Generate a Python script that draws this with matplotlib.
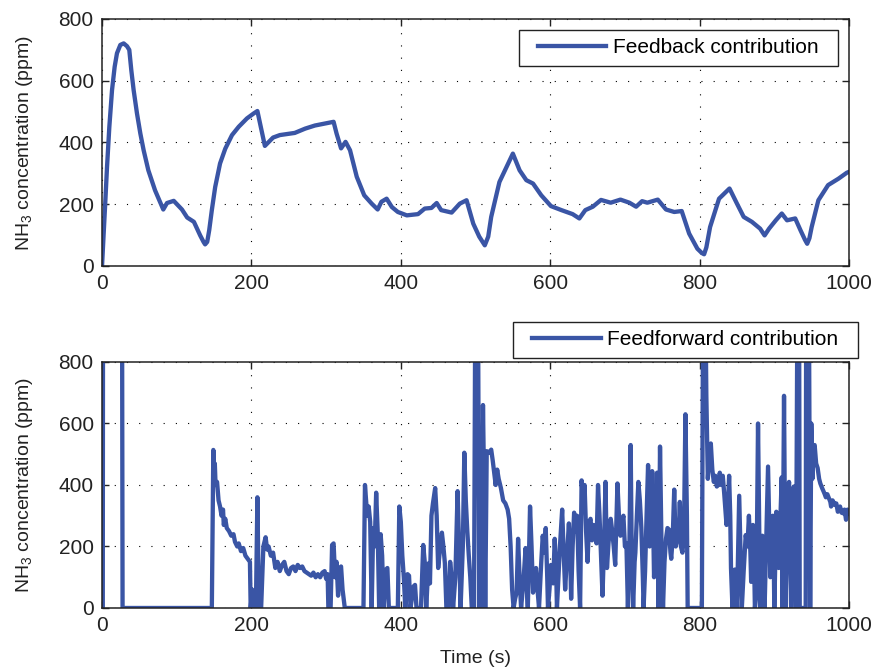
import matplotlib
matplotlib.use("Agg")
import matplotlib.pyplot as plt
from matplotlib.legend_handler import HandlerLine2D
import numpy as np

plt.rcParams["font.family"] = ["Liberation Sans", "DejaVu Sans"]
plt.rcParams["mathtext.fontset"] = "custom"
plt.rcParams["mathtext.rm"] = "Liberation Sans"
plt.rcParams["mathtext.it"] = "Liberation Sans:italic"

LINE_COLOR = "#3a55a5"
FS = 15

# Feedback contribution (ppm) over time (s)
fb_time = [0, 2.2, 4.5, 6.7, 9.8, 13.4, 16.9, 20, 24.5, 29, 33.4, 36.5, 39.2, 42.3, 46.8,
           51.3, 55.7, 62, 71, 82, 87, 96, 107, 114, 123, 131.4, 135.9, 138, 140.8, 143.5,
           147, 151.5, 158, 165, 174, 183, 194, 203, 208, 212.5, 218, 229, 238, 258,
           272, 285, 310, 314, 320, 326, 332, 341, 351, 361, 369, 374, 381, 388, 396,
           408, 423, 432, 441, 448, 454, 468, 479, 488, 497, 505, 512.4, 517, 521, 532,
           550, 559, 568, 577, 588, 601, 615, 630, 639, 647, 657, 668, 681, 694, 706, 715,
           723, 730, 744, 755, 766, 776, 786, 797, 803, 806, 809, 814, 826, 840, 850, 859,
           870, 881, 887, 893, 902, 910, 917, 928, 935, 941, 944, 947, 950, 959, 972, 986,
           997, 1000]
fb_value = [0, 105, 213, 321, 451, 570, 645, 689, 716, 721, 712, 700, 634, 570, 494,
            429, 375, 310, 245, 183, 204, 211, 183, 157, 143, 99, 78, 70, 78, 116,
            181, 256, 332, 380, 424, 451, 478, 494, 502, 451, 389, 416, 424, 431,
            445, 455, 467, 429, 381, 402, 375, 289, 229, 202, 183, 208, 218, 191, 175,
            164, 168, 186, 188, 204, 181, 173, 202, 213, 137, 95, 67, 95, 159, 272,
            364, 310, 278, 267, 229, 194, 181, 168, 154, 181, 192, 214, 205, 215, 205, 192,
            210, 205, 215, 183, 175, 178, 105, 56, 42, 38, 60, 126, 218, 251, 202, 159,
            143, 121, 99, 121, 148, 170, 148, 154, 116, 85, 72, 90, 126, 213, 262, 283,
            302, 305]

# Feedforward contribution (ppm) over time (s); values above 800 run off the axis
ff_time = [1, 1.5, 26.5, 27.5, 147, 149, 150, 151, 152, 154, 156, 158, 160, 162, 163, 165, 167,
           170, 173, 176, 178, 181, 183, 186, 189, 192, 195, 198, 199, 201, 203, 206, 208,
           210, 213, 216, 219, 221, 223, 226, 229, 232, 235, 238, 241, 244, 247, 250, 253,
           256, 259, 262, 265, 268, 271, 274, 277, 280, 283, 286, 289, 292, 295, 298, 300,
           302, 303, 306, 308, 310, 312, 314, 316, 318, 320, 322, 325,
           350, 352, 355, 357, 359, 361, 363, 365, 367, 369, 371, 373, 375, 377, 380, 382,
           384, 396, 398, 400, 402, 404, 406, 409, 411, 413, 417, 419, 421, 427, 430, 432,
           434, 437, 439, 441, 443, 446, 448, 450, 452, 455, 457, 459, 461, 464, 466, 468,
           470, 473, 476, 478, 480, 483, 485, 487, 489, 491, 493, 495, 498, 500, 503, 505,
           507, 508, 510, 512, 513, 515, 518, 521, 523, 525, 527, 529, 531, 534, 537, 540,
           543, 545, 547, 549, 551, 553, 555, 557, 559, 561, 564, 567, 569, 570, 573, 575,
           577, 579, 581, 583, 585, 588, 590, 592, 594, 596, 597, 599, 601, 604, 606, 608,
           609, 611, 613, 616, 618, 620, 622, 625, 627, 628, 630, 632, 634, 636, 638, 640,
           642, 644, 646, 648, 650, 652, 654, 656, 658, 660, 662, 664, 666, 668, 670, 672,
           674, 676, 678, 681, 683, 685, 687, 690, 692, 694, 696, 698, 700, 702, 704, 706,
           707.7, 709, 711, 713, 714, 716, 718, 720, 722, 724, 725, 727, 729, 731, 733, 735,
           736.5, 738, 739, 741, 743, 745, 747, 749, 751, 753, 755, 757, 759, 761, 762, 764,
           766, 768, 770, 772, 773.5, 775, 777, 779, 781, 783, 784, 803, 805, 807, 809, 811,
           813, 815, 817, 819, 821, 823, 825, 827, 829, 831, 833, 836, 838, 839.5, 841, 842,
           844, 847, 849, 850, 853, 855, 856.5, 859, 861.7, 864, 866, 868, 869, 871.4, 873,
           874, 876, 878.2, 880, 881, 883, 884, 886, 887, 889, 891.6, 893, 894.7, 896, 898,
           899, 900, 902.7, 904, 906, 908, 909.9, 911, 913, 915, 917, 919.7, 921, 922.5, 924,
           926, 928, 929, 931.3, 933, 934, 942, 942.8, 946, 948, 949.5, 951, 952, 954, 956,
           958, 960, 961.6, 964, 967, 969, 971, 973, 975, 976, 978, 981, 983, 985, 987, 988,
           990, 992, 994, 996, 998, 1000]
ff_value = [0, 1500, 1500, 0, 0, 514, 420, 470, 400, 410, 350, 330, 300, 320, 270, 290, 260,
            250, 235, 240, 215, 200, 210, 185, 195, 170, 160, 150, 0, 60, 0, 0, 360,
            0, 0, 200, 230, 190, 200, 170, 180, 130, 150, 120, 140, 150, 120, 110, 130,
            135, 120, 140, 130, 135, 120, 115, 110, 105, 115, 100, 110, 100, 115, 120, 95,
            110, 0, 0, 205, 210, 100, 150, 40, 130, 135, 60, 0,
            0, 400, 300, 330, 280, 0, 260, 200, 375, 250, 0, 240, 170, 0, 125, 130,
            0, 0, 330, 280, 170, 100, 0, 110, 105, 0, 70, 75, 0, 0, 205, 150,
            0, 145, 80, 300, 340, 390, 300, 130, 180, 245, 200, 145, 0, 0, 150, 100,
            0, 100, 380, 200, 0, 200, 505, 350, 250, 170, 100, 0, 0, 1200, 1200, 0,
            300, 0, 660, 300, 0, 510, 505, 515, 480, 440, 400, 450, 420, 390, 350, 340,
            320, 290, 200, 60, 0, 30, 50, 225, 100, 0, 80, 195, 50, 0, 330, 200,
            50, 90, 130, 60, 0, 150, 235, 180, 260, 100, 0, 60, 140, 80, 225, 120,
            0, 100, 200, 320, 180, 60, 150, 275, 140, 30, 200, 310, 250, 300, 120, 0,
            415, 350, 400, 250, 150, 280, 290, 220, 270, 250, 210, 400, 300, 170, 40, 200,
            410, 130, 210, 290, 250, 200, 140, 405, 300, 235, 280, 300, 200, 210, 0, 200,
            530, 200, 0, 150, 180, 300, 410, 350, 260, 100, 0, 120, 300, 465, 200, 300,
            445, 250, 100, 250, 440, 0, 525, 200, 0, 150, 225, 260, 255, 180, 160, 230,
            385, 200, 220, 230, 345, 200, 180, 240, 630, 300, 0, 0, 1200, 1200, 690, 420,
            500, 535, 450, 410, 430, 395, 400, 440, 400, 430, 370, 270, 340, 430, 300, 130,
            0, 125, 60, 0, 365, 150, 0, 120, 237, 200, 300, 180, 85, 270, 150,
            0, 50, 600, 200, 0, 150, 235, 100, 0, 200, 460, 300, 100, 250, 300,
            200, 0, 313, 200, 130, 280, 425, 0, 690, 0, 250, 410, 200, 0, 150,
            395, 200, 0, 1200, 1200, 0, 0, 1200, 1200, 0, 600, 420, 520, 530, 470,
            455, 420, 405, 390, 373, 360, 370, 357, 345, 330, 350, 335, 340, 313, 320, 330,
            310, 308, 320, 287, 320, 310]

fig = plt.figure(figsize=(8.75, 6.69), dpi=100)
ax1 = fig.add_axes([0.1166, 0.6024, 0.8537, 0.3692])
ax2 = fig.add_axes([0.1166, 0.0912, 0.8537, 0.3677])

ax1.plot(fb_time, fb_value, color=LINE_COLOR, lw=3.1, label="Feedback contribution  ",
         solid_joinstyle="round")
ax2.plot(ff_time, ff_value, color=LINE_COLOR, lw=3.1, label="Feedforward contribution  ",
         solid_joinstyle="round")

for ax in (ax1, ax2):
    ax.set_xlim(0, 1000)
    ax.set_ylim(0, 800)
    ax.set_xticks(np.arange(0, 1001, 200))
    ax.set_yticks(np.arange(0, 801, 200))
    ax.grid(True, color="black", linestyle=(0, (1, 10)), linewidth=0.8)
    ax.tick_params(direction="in", length=5, width=1, top=True, right=True,
                   labelsize=FS, pad=6, colors="#222222", labelcolor="#222222")
    for s in ax.spines.values():
        s.set_linewidth(1.1)
        s.set_color("#222222")
    ax.set_ylabel("NH$_3$ concentration (ppm)", fontsize=FS - 1, labelpad=17,
                  color="#222222")

ax2.set_xlabel("Time (s)", fontsize=FS - 1, labelpad=10.5, color="#222222")

# legend sample line inset from the frame's left edge
handler = {matplotlib.lines.Line2D: HandlerLine2D(xpad=0.5)}
for ax, anchor in ((ax1, (0.9853, 0.9555)), (ax2, (1.012, 1.1626))):
    leg = ax.legend(loc="upper right", bbox_to_anchor=anchor, borderaxespad=0,
                    fontsize=FS, handlelength=3.8, handletextpad=0.3, fancybox=False,
                    framealpha=1, edgecolor="#222222", borderpad=0.4,
                    handler_map=handler)
    leg.get_frame().set_linewidth(1.0)

fig.savefig("out.png", dpi=100)
